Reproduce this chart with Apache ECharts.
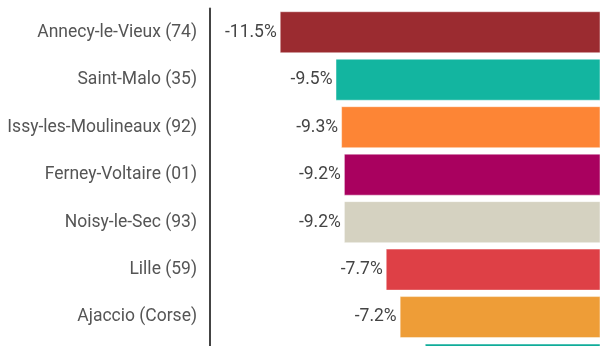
<!DOCTYPE html>
<html>
<head>
<meta charset="utf-8">
<style>
  html, body { margin: 0; padding: 0; background: #fff; }
  #chart { width: 616px; height: 346px; }
</style>
<script src="https://cdn.jsdelivr.net/npm/echarts@6/dist/echarts.min.js"></script>
</head>
<body>
<div id="chart"></div>
<script>
// Price change by town, in percent
const towns = [
  'Annecy-le-Vieux (74)',
  'Saint-Malo (35)',
  'Issy-les-Moulineaux (92)',
  'Ferney-Voltaire (01)',
  'Noisy-le-Sec (93)',
  'Lille (59)',
  'Ajaccio (Corse)',
  ''
];
const changes = [-11.5, -9.5, -9.3, -9.2, -9.2, -7.7, -7.2, -6.3];
const barColors = ['#9b2b30', '#13b5a0', '#fd8535', '#a9015f', '#d5d2c1', '#de4046', '#ee9d37', '#10ac9a'];

const chart = echarts.init(document.getElementById('chart'), null, { renderer: 'canvas' });

chart.setOption({
  animation: false,
  textStyle: { fontFamily: 'Roboto' },
  // the list runs on below the visible area, so the grid is taller than the view
  grid: {
    left: 210, right: 15.5, top: 8.5, height: 379.8,
    containLabel: false,
    outerBoundsMode: 'none'
  },
  xAxis: {
    type: 'value',
    min: -14,
    max: 0,
    show: false
  },
  yAxis: {
    type: 'category',
    data: towns,
    inverse: true,
    axisLine: { onZero: false, lineStyle: { color: '#444', width: 2 } },
    axisTick: { show: false },
    axisLabel: { color: '#555', fontSize: 17.5, margin: 13, fontFamily: 'Roboto' }
  },
  series: [{
    type: 'bar',
    barWidth: 42,
    data: changes.map((v, i) => ({
      value: v,
      itemStyle: { color: barColors[i] }
    })),
    itemStyle: { borderColor: 'rgba(255,255,255,0.45)', borderWidth: 1 },
    label: {
      show: true,
      position: 'left',
      distance: 3,
      color: '#444',
      fontSize: 17.5,
      fontFamily: 'Roboto',
      formatter: p => p.value.toFixed(1) + '%'
    }
  }]
});
</script>
</body>
</html>
